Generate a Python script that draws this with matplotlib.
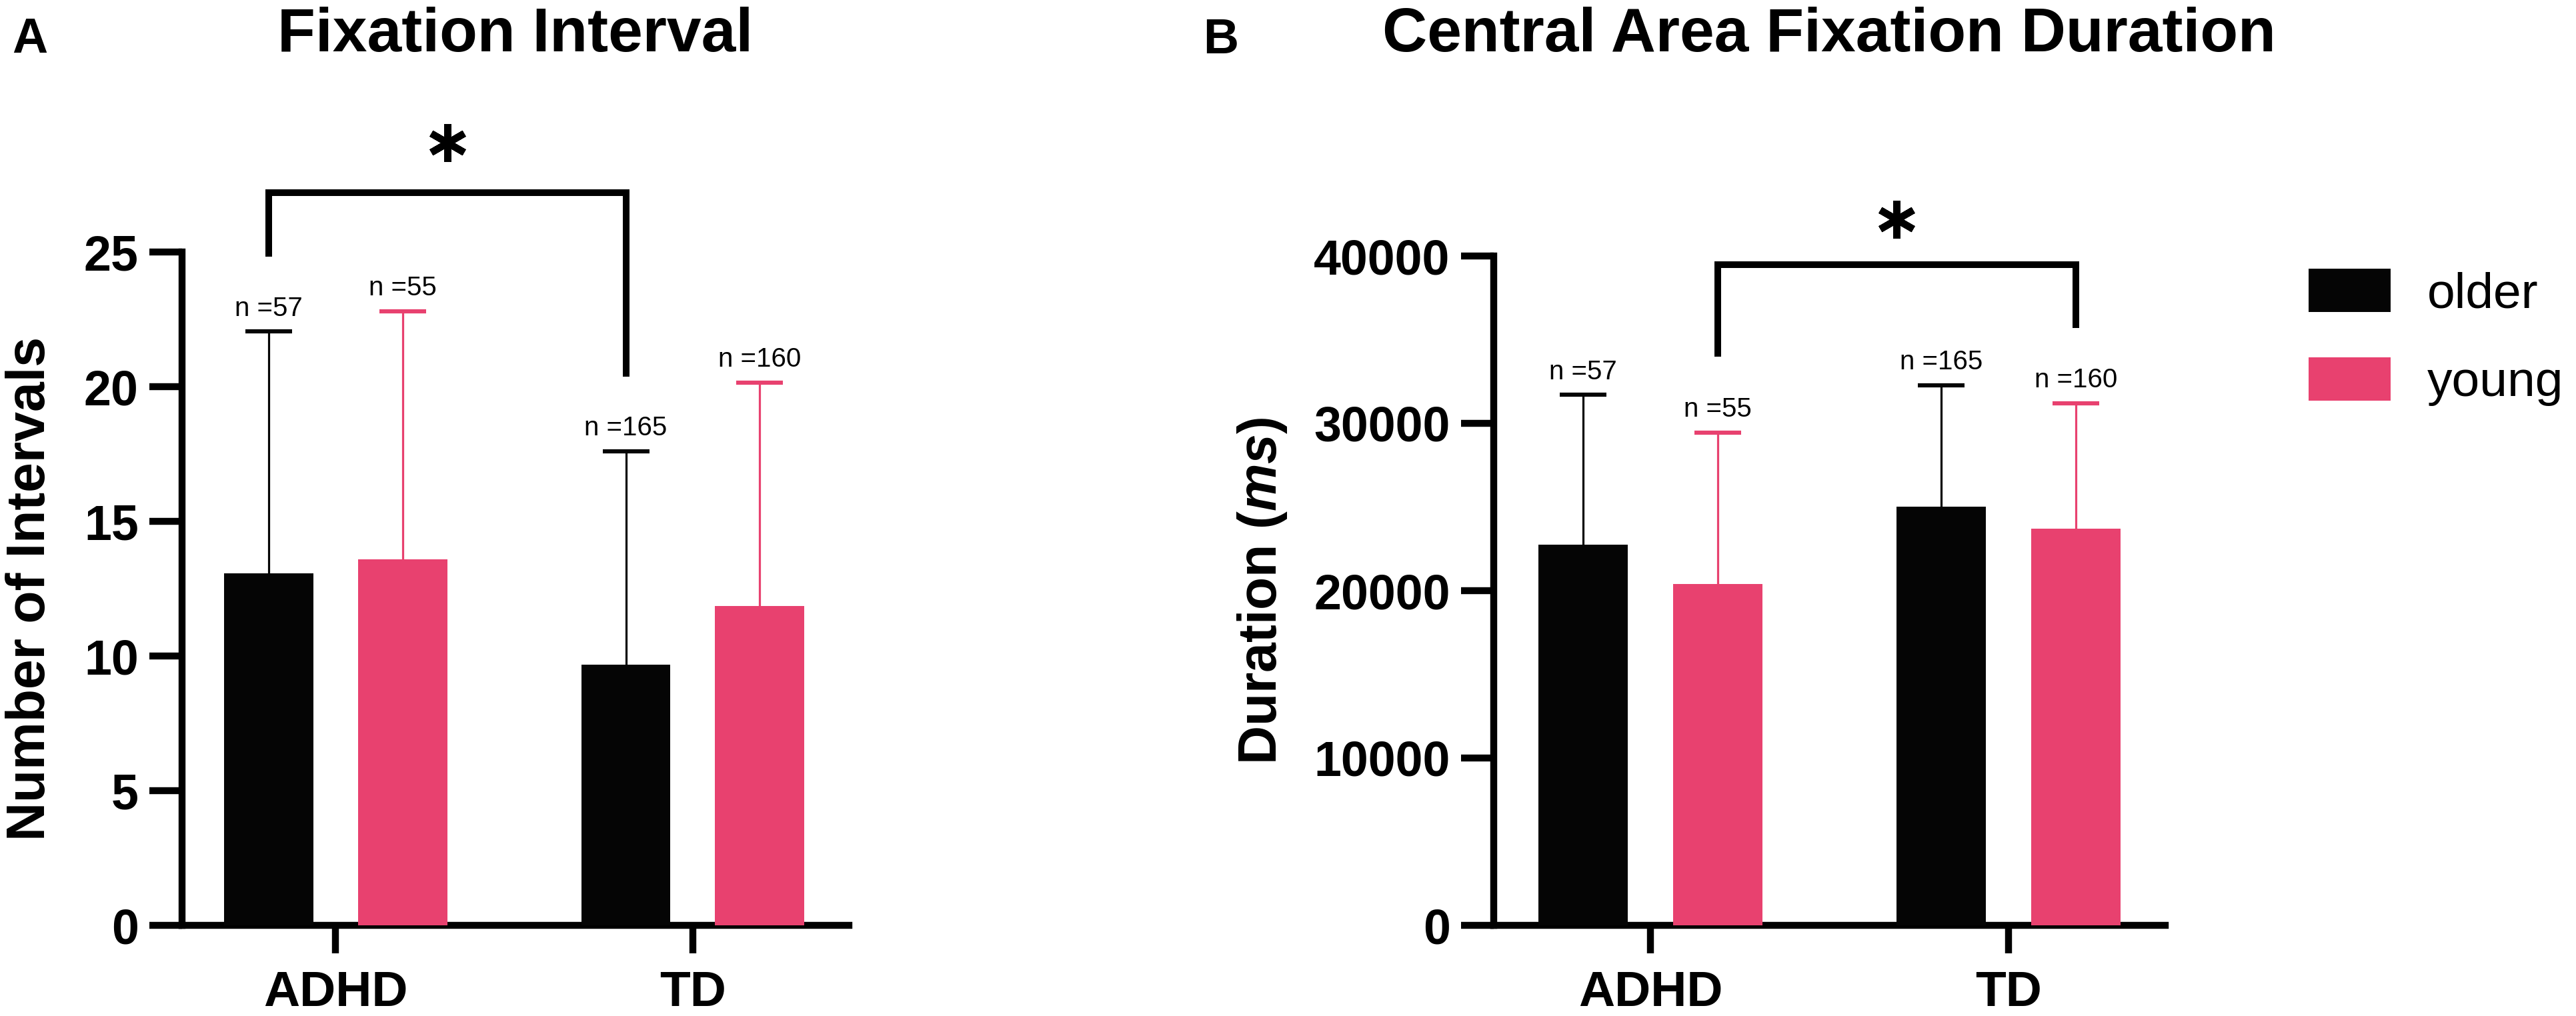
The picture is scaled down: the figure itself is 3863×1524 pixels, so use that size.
import numpy as np
import matplotlib
matplotlib.use('Agg')
import matplotlib.pyplot as plt

plt.rcParams['font.family'] = ['Liberation Sans', 'DejaVu Sans']
plt.rcParams['font.weight'] = 'bold'
plt.rcParams['mathtext.fontset'] = 'custom'
plt.rcParams['mathtext.rm'] = 'Liberation Sans:bold'
plt.rcParams['mathtext.bf'] = 'Liberation Sans:bold'
plt.rcParams['mathtext.it'] = 'Liberation Sans:bold:italic'

# data
groups = ['ADHD', 'TD']
series = ['older', 'young']
colors = ['#050505', '#E8416F']
n_older = [57, 165]
n_young = [55, 160]

# panel A: number of intervals (mean, SD)
fix_mean_older = [13.07, 9.68]
fix_mean_young = [13.59, 11.86]
fix_sd_older = [8.98, 7.92]
fix_sd_young = [9.21, 8.29]
fix_sig_ends = [24.95, 20.5]   # bracket legs, ADHD older -> TD older
fix_sig_top = 27.2
fix_star = 29.05

# panel B: central area fixation duration in ms (mean, SD)
dur_mean_older = [22750, 25020]
dur_mean_young = [20400, 23700]
dur_sd_older = [8950, 7250]
dur_sd_young = [9060, 7500]
dur_sig_ends = [34180, 35900]  # bracket legs, ADHD young -> TD young
dur_sig_top = 39480
dur_star = 42190

W, H = 3863, 1524
fig = plt.figure(figsize=(W / 100, H / 100), dpi=100)

# axes boxes in pixels (left, right, bottom, top)
axA = fig.add_axes([273 / W, 1 - 1388 / H, 1000 / W, 1010 / H])
axB = fig.add_axes([2240 / W, 1 - 1388 / H, 1007 / W, 1004 / H])

width = 0.25
offset = 0.1875


def draw_panel(ax, means, sds, yticks, xlim):
    x = np.arange(len(groups))
    handles = []
    for k in range(2):
        xs = x + (2 * k - 1) * offset
        m = np.array(means[k])
        s = np.array(sds[k])
        ns = [n_older, n_young][k]
        b = ax.bar(xs, m, width=width, color=colors[k], linewidth=0,
                   label=series[k], zorder=3)
        # symmetric bars, the lower half hides behind the bar
        ax.errorbar(xs, m, yerr=s, fmt='none',
                    ecolor=colors[k], elinewidth=2.3, capsize=25.5,
                    capthick=4.5, zorder=2)
        for xi, top, ni in zip(xs, m + s, ns):
            ax.annotate(f'n ={ni}', (xi, top), xytext=(0, 17),
                        textcoords='offset points', ha='center',
                        va='baseline', fontsize=29, fontweight='normal')
        handles.append(b)

    ax.set_xlim(*xlim)
    ax.set_ylim(yticks[0], yticks[-1])
    ax.set_yticks(yticks)
    ax.set_xticks(x)
    ax.set_xticklabels(groups)
    for sp in ['top', 'right']:
        ax.spines[sp].set_visible(False)
    for sp in ['left', 'bottom']:
        ax.spines[sp].set_linewidth(7.5)
    ax.tick_params(axis='y', length=35, width=7.5, pad=12, labelsize=53)
    ax.tick_params(axis='x', length=30, width=7.5, pad=18, labelsize=54)
    return handles


draw_panel(axA, [fix_mean_older, fix_mean_young], [fix_sd_older, fix_sd_young],
           [0, 5, 10, 15, 20, 25], (-0.43, 1.437))
hB = draw_panel(axB, [dur_mean_older, dur_mean_young], [dur_sd_older, dur_sd_young],
                [0, 10000, 20000, 30000, 40000], (-0.4375, 1.4375))

# significance brackets
xa = [-offset, -offset, 1 - offset, 1 - offset]
axA.plot(xa, [fix_sig_ends[0], fix_sig_top, fix_sig_top, fix_sig_ends[1]],
         color='black', lw=7.2, clip_on=False, solid_joinstyle='miter')
axA.plot([0.5 - offset], [fix_star], marker=(6, 2, 0), markersize=41,
         mew=7.5, color='black', clip_on=False)

xb = [offset, offset, 1 + offset, 1 + offset]
axB.plot(xb, [dur_sig_ends[0], dur_sig_top, dur_sig_top, dur_sig_ends[1]],
         color='black', lw=7.2, clip_on=False, solid_joinstyle='miter')
axB.plot([0.5 + offset], [dur_star], marker=(6, 2, 0), markersize=41,
         mew=7.5, color='black', clip_on=False)

# titles and panel letters
fig.text(773 / W, 1 - 77 / H, 'Fixation Interval', ha='center', va='baseline',
         fontsize=67)
fig.text(2743 / W, 1 - 77 / H, 'Central Area Fixation Duration', ha='center',
         va='baseline', fontsize=67)
fig.text(18 / W, 1 - 79 / H, 'A', ha='left', va='baseline', fontsize=53)
fig.text(1804 / W, 1 - 80 / H, 'B', ha='left', va='baseline', fontsize=53)

# y labels
fig.text(67 / W, 1 - 883 / H, 'Number of Intervals', rotation=90,
         rotation_mode='anchor', ha='center', va='baseline', fontsize=58)
fig.text(1914 / W, 1 - 886 / H, r'Duration ($\mathit{ms}$)', rotation=90,
         rotation_mode='anchor', ha='center', va='baseline', fontsize=58)

fig.legend(hB, series, loc='upper left', bbox_to_anchor=(3462 / W, 1 - 403 / H),
           frameon=False, prop={'size': 54, 'weight': 'normal'},
           handlelength=1.64, handleheight=0.95, handletextpad=0.73,
           labelspacing=0.8, borderpad=0, borderaxespad=0)

fig.savefig('out.png', dpi=100)
